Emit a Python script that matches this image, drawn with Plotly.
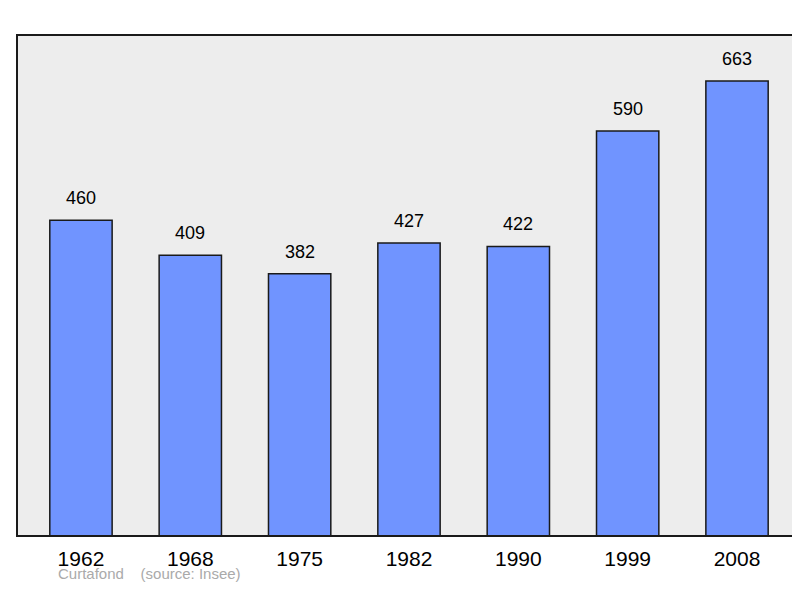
import plotly.graph_objects as go

years = ["1962", "1968", "1975", "1982", "1990", "1999", "2008"]
population = [460, 409, 382, 427, 422, 590, 663]

fig = go.Figure()
fig.add_trace(go.Bar(x=years, y=population, width=0.57,
                     marker=dict(color="#7094FF", line=dict(color="#1a1a1a", width=1.5))))

# value labels above each bar (category index as x position)
for i, val in enumerate(population):
    fig.add_annotation(x=i, y=val, text=str(val), showarrow=False, yshift=22,
                       font=dict(size=18, color="black"))

fig.add_shape(type="rect", xref="paper", yref="paper", x0=0, y0=0, x1=1, y1=1,
              line=dict(color="#1a1a1a", width=2))
fig.add_annotation(xref="paper", yref="paper", x=0.05, y=-0.095, xanchor="left",
                   text="Curtafond &nbsp;&nbsp; (source: Insee)", showarrow=False,
                   font=dict(size=15, color="#aaaaaa"))

fig.update_layout(
    width=800, height=598,
    paper_bgcolor="white", plot_bgcolor="#EDEDED",
    margin=dict(l=9, r=8, t=27, b=70, autoexpand=False),
    font=dict(family="Liberation Sans, Arial, sans-serif"),
    showlegend=False,
    xaxis=dict(type="category", range=[-0.585, 6.576], showgrid=False,
               tickfont=dict(size=21, color="black"), ticks="", ticklen=0,
               ticklabelstandoff=8),
    yaxis=dict(range=[0, 730], showgrid=False, showticklabels=False, zeroline=False),
)
fig.write_html("out.html")
